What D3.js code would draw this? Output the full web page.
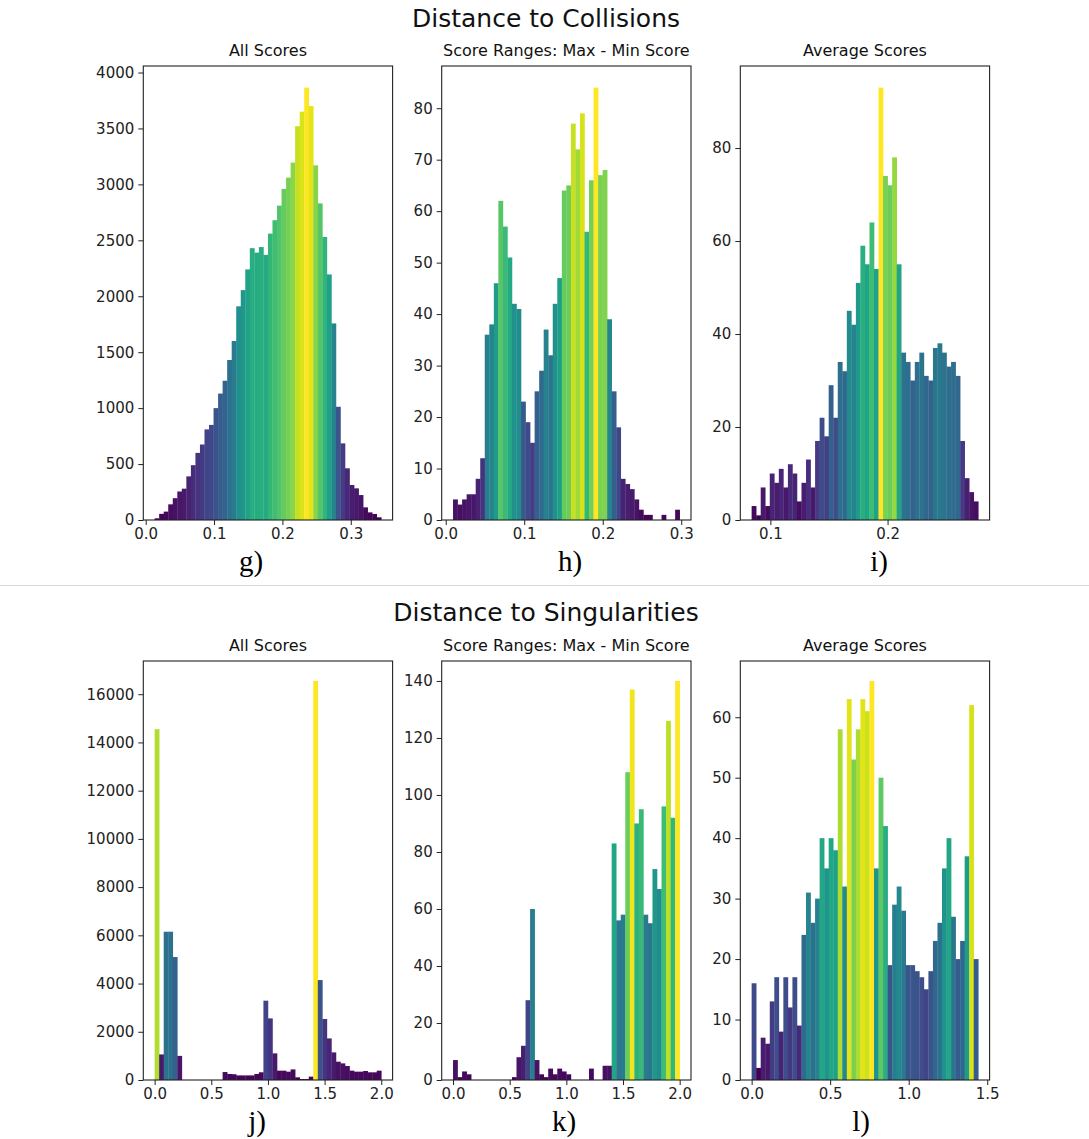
<!DOCTYPE html>
<html>
<head>
<meta charset="utf-8">
<script src="https://cdn.jsdelivr.net/npm/d3@7"></script>
<style>
  body { margin: 0; background: #fff; }
  svg { display: block; }
  .tick line { stroke: #222; }
</style>
</head>
<body>
<svg id="chart" width="1089" height="1139"></svg>
<script>
// bin counts, 50 bins each
const collAll = [15, 55, 75, 140, 195, 255, 280, 390, 490, 600, 675, 810, 850, 1000, 1130, 1245, 1430, 1600, 1910, 2055,
  2240, 2430, 2390, 2440, 2370, 2560, 2680, 2810, 2960, 3060, 3195, 3520, 3650, 3865, 3700, 3170, 2830, 2530, 2195, 1757,
  1012, 685, 462, 313, 283, 223, 113, 68, 54, 24];
const collRange = [4, 3, 4, 5, 5, 8, 12, 36, 38, 46, 62, 57, 51, 42, 41, 23, 19, 15, 25, 29,
  37, 32, 42, 47, 64, 65, 77, 72, 79, 56, 66, 84, 67, 68, 39, 25, 18, 8, 7, 6,
  4, 2, 1, 1, 0, 0, 1, 0, 0, 2];
const collAvg = [3, 1, 7, 3, 10, 8, 11, 7, 12, 10, 4, 8, 13, 7, 17, 22, 18, 29, 22, 34,
  32, 45, 42, 51, 59, 55, 64, 54, 93, 74, 72, 78, 55, 36, 34, 30, 34, 36, 31, 30,
  37, 38, 36, 33, 34, 31, 17, 9, 6, 4];
const singAll = [14550, 1060, 6150, 6150, 5100, 1000, 0, 0, 0, 0, 0, 0, 0, 0, 0, 330, 250, 240, 190, 190,
  190, 190, 250, 320, 3290, 2555, 1105, 387, 387, 345, 440, 110, 40, 40, 140, 16550, 4145, 2530, 1725, 1145,
  760, 690, 580, 387, 345, 345, 373, 318, 318, 387];
const singRange = [7, 1, 3, 2, 0, 0, 0, 0, 0, 0, 0, 0, 0, 1, 8, 12, 28, 60, 7, 2,
  1, 4, 2, 4, 3, 2, 0, 0, 0, 0, 4, 0, 0, 5, 5, 83, 56, 58, 108, 137,
  90, 95, 58, 55, 74, 67, 96, 126, 92, 140];
const singAvg = [16, 2, 7, 6, 13, 17, 8, 17, 12, 17, 9, 24, 31, 26, 30, 40, 35, 40, 38, 58,
  32, 63, 53, 58, 63, 61, 66, 35, 50, 42, 19, 29, 32, 28, 19, 19, 18, 17, 15, 18,
  23, 26, 35, 40, 27, 20, 23, 37, 62, 20];

// data extent (first edge, last edge) of each histogram
const collAllExtent = [0.0131, 0.3446];
const collRangeExtent = [0.0093, 0.298];
const collAvgExtent = [0.084, 0.2774];
const singAllExtent = [0.0, 2.0];
const singRangeExtent = [0.0, 2.0];
const singAvgExtent = [0.0, 1.443];

// tick labels
const xTicks01 = [0.0, 0.1, 0.2, 0.3];
const xTicksAvgColl = [0.1, 0.2];
const xTicks05 = [0.0, 0.5, 1.0, 1.5, 2.0];
const xTicksAvgSing = [0.0, 0.5, 1.0, 1.5];
const yTicksCollAll = d3.range(0, 4001, 500);
const yTicksCollRange = d3.range(0, 81, 10);
const yTicksCollAvg = [0, 20, 40, 60, 80];
const yTicksSingAll = d3.range(0, 16001, 2000);
const yTicksSingRange = d3.range(0, 141, 20);
const yTicksSingAvg = d3.range(0, 61, 10);

const subTitles = ['All Scores', 'Score Ranges: Max - Min Score', 'Average Scores'];

const FONT = "'DejaVu Sans', sans-serif";
const svg = d3.select('#chart');
const colX = [143.3, 441.7, 740.3];
const W = 249.3;

const panels = [
  { counts: collAll, ext: collAllExtent, xt: xTicks01, yt: yTicksCollAll, col: 0, top: 66, h: 454, letter: 'g)', lx: 251 },
  { counts: collRange, ext: collRangeExtent, xt: xTicks01, yt: yTicksCollRange, col: 1, top: 66, h: 454, letter: 'h)', lx: 570 },
  { counts: collAvg, ext: collAvgExtent, xt: xTicksAvgColl, yt: yTicksCollAvg, col: 2, top: 66, h: 454, letter: 'i)', lx: 879 },
  { counts: singAll, ext: singAllExtent, xt: xTicks05, yt: yTicksSingAll, col: 0, top: 661, h: 419, letter: 'j)', lx: 257 },
  { counts: singRange, ext: singRangeExtent, xt: xTicks05, yt: yTicksSingRange, col: 1, top: 661, h: 419, letter: 'k)', lx: 564 },
  { counts: singAvg, ext: singAvgExtent, xt: xTicksAvgSing, yt: yTicksSingAvg, col: 2, top: 661, h: 419, letter: 'l)', lx: 861 }
];

const drawPanel = (p) => {
  const lo = p.ext[0], hi = p.ext[1];
  const n = p.counts.length;
  const step = (hi - lo) / n;
  const x = d3.scaleLinear()
    .domain([lo - 0.05 * (hi - lo), hi + 0.05 * (hi - lo)])
    .range([0, W]);
  const maxC = d3.max(p.counts), minC = d3.min(p.counts);
  const y = d3.scaleLinear().domain([0, maxC * 1.05]).range([p.h, 0]);

  const g = svg.append('g').attr('transform', 'translate(' + colX[p.col] + ',' + p.top + ')');

  g.selectAll('.bar')
    .data(p.counts)
    .enter().append('rect')
    .attr('class', 'bar')
    .attr('x', (d, i) => x(lo + i * step))
    .attr('width', (d, i) => x(lo + (i + 1) * step) - x(lo + i * step) + 0.3)
    .attr('y', (d) => y(d))
    .attr('height', (d) => p.h - y(d))
    .attr('fill', (d) => d3.interpolateViridis((d - minC) / (maxC - minC)));

  const xAxis = g.append('g')
    .attr('transform', 'translate(0,' + p.h + ')')
    .call(d3.axisBottom(x).tickValues(p.xt).tickFormat(d3.format('.1f')).tickSize(5).tickPadding(3));
  xAxis.select('.domain').remove();

  const yAxis = g.append('g')
    .call(d3.axisLeft(y).tickValues(p.yt).tickFormat(d3.format('d')).tickSize(5).tickPadding(4));
  yAxis.select('.domain').remove();

  [xAxis, yAxis].forEach((a) => {
    a.attr('font-family', null).attr('font-size', null);
    a.selectAll('text')
      .style('font-family', FONT)
      .style('font-size', '15px')
      .attr('fill', '#222');
  });

  g.append('rect')
    .attr('width', W)
    .attr('height', p.h)
    .attr('fill', 'none')
    .attr('stroke', '#222')
    .attr('stroke-width', 1.1);

  g.append('text')
    .attr('x', W / 2)
    .attr('y', -10)
    .attr('text-anchor', 'middle')
    .style('font-family', FONT)
    .style('font-size', '16px')
    .attr('fill', '#111')
    .text(subTitles[p.col]);

  svg.append('text')
    .attr('x', p.lx)
    .attr('y', p.top + p.h + 51)
    .attr('text-anchor', 'middle')
    .style('font-family', "'Liberation Serif', 'Times New Roman', serif")
    .style('font-size', '29px')
    .attr('fill', '#000')
    .text(p.letter);
};

panels.forEach(drawPanel);

svg.append('text')
  .attr('x', 546).attr('y', 27)
  .attr('text-anchor', 'middle')
  .style('font-family', FONT)
  .style('font-size', '25px')
  .attr('fill', '#111')
  .text('Distance to Collisions');

svg.append('text')
  .attr('x', 546).attr('y', 621)
  .attr('text-anchor', 'middle')
  .style('font-family', FONT)
  .style('font-size', '25px')
  .attr('fill', '#111')
  .text('Distance to Singularities');

svg.append('line')
  .attr('x1', 0).attr('x2', 1089)
  .attr('y1', 585.5).attr('y2', 585.5)
  .attr('stroke', '#d8d8d8')
  .attr('stroke-width', 1);
</script>
</body>
</html>
